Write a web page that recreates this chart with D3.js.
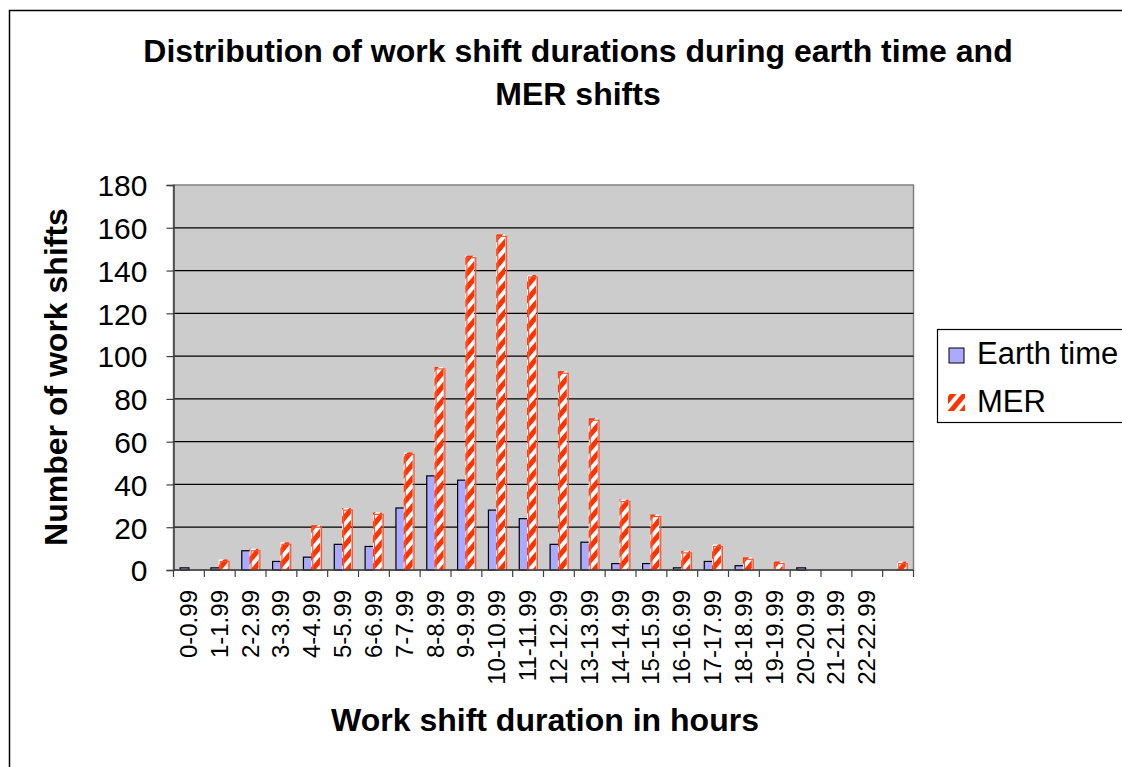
<!DOCTYPE html>
<html>
<head>
<meta charset="utf-8">
<script src="https://cdn.jsdelivr.net/npm/d3@7"></script>
<style>
  body { margin: 0; background: #fff; }
  svg { display: block; font-family: "Liberation Sans", Arial, sans-serif; }
</style>
</head>
<body>
<div id="chart"></div>
<script>
// categories: last one has no label in the original
var categories = ["0-0.99", "1-1.99", "2-2.99", "3-3.99", "4-4.99", "5-5.99", "6-6.99", "7-7.99",
    "8-8.99", "9-9.99", "10-10.99", "11-11.99", "12-12.99", "13-13.99", "14-14.99", "15-15.99",
    "16-16.99", "17-17.99", "18-18.99", "19-19.99", "20-20.99", "21-21.99", "22-22.99", ""];
var earthTime = [1, 1, 9, 4, 6, 12, 11, 29, 44, 42, 28, 24, 12, 13, 3, 3, 1, 4, 2, 0, 1, 0, 0, 0];
var mer = [0, 4, 9, 12, 20, 28, 26, 54, 94, 146, 156, 137, 92, 70, 32, 25, 8, 11, 5, 3, 0, 0, 0, 3];
var yTicks = [0, 20, 40, 60, 80, 100, 120, 140, 160, 180];

var width = 1122, height = 767;
var plot = { left: 173.5, right: 913.5, top: 185, bottom: 570 };

var svg = d3.select("#chart").append("svg")
    .attr("width", width)
    .attr("height", height);

var defs = svg.append("defs");
var pat = defs.append("pattern")
    .attr("id", "stripes")
    .attr("patternUnits", "userSpaceOnUse")
    .attr("width", 9)
    .attr("height", 9)
    .attr("patternTransform", "rotate(40)");
pat.append("rect").attr("width", 9).attr("height", 9).attr("fill", "#ffffff");
pat.append("rect").attr("width", 5).attr("height", 9).attr("fill", "#ff3300");

// outer chart border
svg.append("path")
    .attr("d", "M9.5," + height + "V10.5H" + width)
    .attr("fill", "none")
    .attr("stroke", "#000")
    .attr("stroke-width", 1.5);

var x = d3.scaleBand()
    .domain(d3.range(categories.length))
    .range([plot.left, plot.right]);

var y = d3.scaleLinear()
    .domain([0, 180])
    .range([plot.bottom, plot.top]);

// plot background
svg.append("rect")
    .attr("x", plot.left)
    .attr("y", plot.top)
    .attr("width", plot.right - plot.left)
    .attr("height", plot.bottom - plot.top)
    .attr("fill", "#cccccc")
    .attr("stroke", "#808080")
    .attr("stroke-width", 1.5);

// gridlines
svg.append("g")
    .selectAll("line")
    .data(yTicks.slice(1, -1))
    .enter()
    .append("line")
    .attr("x1", plot.left)
    .attr("x2", plot.right)
    .attr("y1", function (d) { return y(d); })
    .attr("y2", function (d) { return y(d); })
    .attr("stroke", "#000")
    .attr("stroke-width", 1.2);

var step = x.bandwidth();
var barW = step / 3.5;
var gap = step * 0.75 / 3.5;

// earth time bars
svg.append("g")
    .selectAll("rect")
    .data(earthTime)
    .enter()
    .append("rect")
    .attr("x", function (d, i) { return x(i) + gap; })
    .attr("y", function (d) { return y(d); })
    .attr("width", barW)
    .attr("height", function (d) { return plot.bottom - y(d); })
    .attr("fill", "#aaaaff")
    .attr("stroke", function (d) { return d > 0 ? "#000" : "none"; })
    .attr("stroke-width", 1.2);

// MER bars: pattern fill with slightly offset outline
var merG = svg.append("g");
merG.selectAll("rect.fill")
    .data(mer)
    .enter()
    .append("rect")
    .attr("class", "fill")
    .attr("x", function (d, i) { return x(i) + gap + barW - 1; })
    .attr("y", function (d) { return y(d) - 2; })
    .attr("width", barW)
    .attr("height", function (d) { return d > 0 ? plot.bottom - y(d) + 2 : 0; })
    .attr("fill", "url(#stripes)");
merG.selectAll("rect.outline")
    .data(mer)
    .enter()
    .append("rect")
    .attr("class", "outline")
    .attr("x", function (d, i) { return x(i) + gap + barW + 0.5; })
    .attr("y", function (d) { return y(d); })
    .attr("width", barW)
    .attr("height", function (d) { return plot.bottom - y(d); })
    .attr("fill", "none")
    .attr("stroke", function (d) { return d > 0 ? "#ff5533" : "none"; })
    .attr("stroke-width", 1.2);

// y axis
var yAxis = svg.append("g")
    .attr("transform", "translate(" + plot.left + ",0)")
    .call(d3.axisLeft(y).tickValues(yTicks).tickSize(7).tickPadding(19));
yAxis.select(".domain").attr("stroke", "#404040").attr("stroke-width", 1.5);
yAxis.selectAll(".tick line").attr("stroke", "#404040").attr("stroke-width", 1.2);
yAxis.selectAll("text")
    .attr("font-size", "30px")
    .attr("font-family", "Liberation Sans, Arial, sans-serif")
    .attr("fill", "#000")
    .attr("dy", "0.36em");

// x axis
var xAxis = svg.append("g")
    .attr("transform", "translate(0," + plot.bottom + ")");
xAxis.append("line")
    .attr("x1", plot.left)
    .attr("x2", plot.right)
    .attr("stroke", "#404040")
    .attr("stroke-width", 1.5);
xAxis.selectAll("line.tick")
    .data(d3.range(categories.length + 1))
    .enter()
    .append("line")
    .attr("class", "tick")
    .attr("x1", function (d) { return plot.left + d * step; })
    .attr("x2", function (d) { return plot.left + d * step; })
    .attr("y1", 0)
    .attr("y2", 7)
    .attr("stroke", "#404040")
    .attr("stroke-width", 1.2);
xAxis.selectAll("text")
    .data(categories)
    .enter()
    .append("text")
    .attr("transform", function (d, i) {
        return "translate(" + (x(i) + step / 2 + 8) + ",20) rotate(-90)";
    })
    .attr("text-anchor", "end")
    .attr("font-size", "24px")
    .text(function (d) { return d; });

// titles
var title = svg.append("text")
    .attr("text-anchor", "middle")
    .attr("font-size", "32px")
    .attr("font-weight", "bold");
title.append("tspan").attr("x", 578).attr("y", 62)
    .text("Distribution of work shift durations during earth time and");
title.append("tspan").attr("x", 578).attr("y", 105)
    .text("MER shifts");

svg.append("text")
    .attr("transform", "translate(67,377) rotate(-90)")
    .attr("text-anchor", "middle")
    .attr("font-size", "32px")
    .attr("font-weight", "bold")
    .text("Number of work shifts");

svg.append("text")
    .attr("x", 545)
    .attr("y", 731)
    .attr("text-anchor", "middle")
    .attr("font-size", "32px")
    .attr("font-weight", "bold")
    .text("Work shift duration in hours");

// legend
var legend = svg.append("g");
legend.append("rect")
    .attr("x", 937.5)
    .attr("y", 329.5)
    .attr("width", 200)
    .attr("height", 93)
    .attr("fill", "#fff")
    .attr("stroke", "#000")
    .attr("stroke-width", 1.2);
legend.append("rect")
    .attr("x", 949).attr("y", 348).attr("width", 15).attr("height", 15)
    .attr("fill", "#aaaaff").attr("stroke", "#000").attr("stroke-width", 1);
legend.append("rect")
    .attr("x", 948).attr("y", 394).attr("width", 17).attr("height", 17)
    .attr("fill", "url(#stripes)");
legend.append("text")
    .attr("x", 977).attr("y", 364)
    .attr("font-size", "31px")
    .text("Earth time");
legend.append("text")
    .attr("x", 977).attr("y", 412)
    .attr("font-size", "31px")
    .text("MER");
</script>
</body>
</html>
